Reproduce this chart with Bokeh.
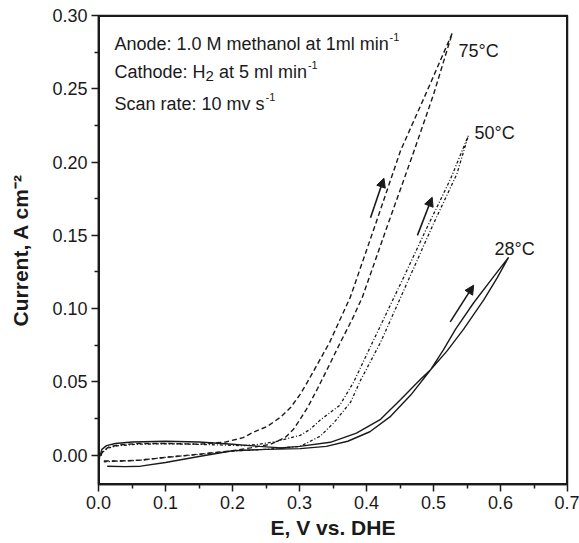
from bokeh.plotting import figure
from bokeh.models import Range1d, FixedTicker, PrintfTickFormatter, Label, Arrow, NormalHead
from bokeh.embed import file_html
from bokeh.resources import INLINE

# ---------------- data ----------------
x_ticks = [0.0, 0.1, 0.2, 0.3, 0.4, 0.5, 0.6, 0.7]
x_tick_labels = ["0.0", "0.1", "0.2", "0.3", "0.4", "0.5", "0.6", "0.7"]
x_minor = [0.05, 0.15, 0.25, 0.35, 0.45, 0.55, 0.65]
y_ticks = [0.0, 0.05, 0.1, 0.15, 0.2, 0.25, 0.3]
y_tick_labels = ["0.00", "0.05", "0.10", "0.15", "0.20", "0.25", "0.30"]
y_minor = [-0.025, 0.025, 0.075, 0.125, 0.175, 0.225, 0.275]

t28_x = [0.013, 0.04, 0.063, 0.10, 0.152, 0.20, 0.25, 0.301, 0.34, 0.372, 0.405, 0.436, 0.466, 0.496,
         0.515, 0.533, 0.560, 0.590, 0.612,
         0.595, 0.575, 0.545, 0.52, 0.496, 0.481, 0.451, 0.421, 0.385, 0.346, 0.30, 0.272,
         0.24, 0.20, 0.15, 0.10, 0.05, 0.025, 0.012, 0.005, 0.002]
t28_y = [-0.0075, -0.0078, -0.0075, -0.005, -0.0007, 0.003, 0.004, 0.0045, 0.006, 0.0095, 0.016, 0.0265, 0.041, 0.0585,
         0.072, 0.086, 0.104, 0.122, 0.135,
         0.121, 0.106, 0.086, 0.071, 0.0585, 0.052, 0.038, 0.0245, 0.015, 0.0088, 0.006, 0.005,
         0.006, 0.0075, 0.009, 0.0095, 0.009, 0.008, 0.0065, 0.004, -0.001]

t50_x = [0.008, 0.03, 0.06, 0.10, 0.15, 0.20, 0.25, 0.301, 0.331, 0.351, 0.376, 0.391, 0.421, 0.463,
         0.50, 0.535, 0.552,
         0.525, 0.49, 0.454, 0.409, 0.381, 0.36, 0.331, 0.316, 0.301, 0.267, 0.24, 0.216, 0.18,
         0.14, 0.10, 0.06, 0.03, 0.015, 0.006, 0.002]
t50_y = [-0.0045, -0.004, -0.0035, -0.0015, 0.0005, 0.0028, 0.004, 0.006, 0.013, 0.022, 0.036, 0.051, 0.077, 0.120,
         0.158, 0.192, 0.218,
         0.188, 0.155, 0.120, 0.077, 0.050, 0.034, 0.024, 0.0177, 0.0135, 0.0095, 0.0075, 0.0065, 0.007,
         0.0075, 0.0078, 0.0075, 0.0065, 0.005, 0.002, -0.002]

t75_x = [0.008, 0.03, 0.06, 0.10, 0.15, 0.20, 0.227, 0.257, 0.279, 0.291, 0.301, 0.312, 0.327, 0.345,
         0.36, 0.38, 0.394, 0.43, 0.469, 0.50, 0.528,
         0.49, 0.451, 0.413, 0.376, 0.345, 0.312, 0.301, 0.287, 0.272, 0.252, 0.231, 0.216, 0.19,
         0.15, 0.10, 0.06, 0.03, 0.015, 0.006, 0.002]
t75_y = [-0.004, -0.004, -0.0035, -0.0015, 0.0007, 0.003, 0.005, 0.0075, 0.0122, 0.0177, 0.0245, 0.0325, 0.0455, 0.062,
         0.076, 0.094, 0.108, 0.155, 0.205, 0.246, 0.288,
         0.248, 0.208, 0.157, 0.108, 0.077, 0.050, 0.0415, 0.0327, 0.026, 0.0197, 0.0156, 0.012, 0.009,
         0.0075, 0.008, 0.008, 0.007, 0.0055, 0.0025, -0.002]

# scan-direction arrows (start x, start y, end x, end y)
arrow_x0 = [0.406, 0.476, 0.525]
arrow_y0 = [0.162, 0.150, 0.091]
arrow_x1 = [0.426, 0.498, 0.560]
arrow_y1 = [0.189, 0.176, 0.116]

temp_labels = ["75°C", "50°C", "28°C"]

# ---------------- layout ----------------
W, H = 579, 543
FL, FR, FT, FB = 98, 567, 15, 484
X0, X1, Y0, Y1 = 0.0, 0.7, -0.02, 0.30
FONT = "Liberation Sans"
INK = "#1a1a1a"


def px_x(px):
    return X0 + (X1 - X0) * (px - FL) / (FR - FL)


def px_y(py):
    return Y1 - (Y1 - Y0) * (py - FT) / (FB - FT)


AR = {' ': 278, 'A': 667, 'C': 722, 'H': 722, 'M': 833, 'S': 667, 'a': 556, 'c': 500, 'd': 556,
      'e': 556, 'h': 556, 'i': 222, 'l': 222, 'm': 833, 'n': 556, 'o': 556, 'r': 333, 's': 500,
      't': 278, 'v': 500, ':': 278, '.': 278, '-': 333, ',': 278}


def tw(s, size, table=AR):
    return sum(table.get(c, 556) for c in s) / 1000.0 * size


p = figure(frame_width=FR - FL, frame_height=FB - FT, x_range=Range1d(X0, X1), y_range=Range1d(Y0, Y1),
           output_backend="svg", toolbar_location=None,
           min_border_left=FL, min_border_right=W - FR, min_border_top=FT, min_border_bottom=H - FB)
p.xgrid.visible = False
p.ygrid.visible = False
p.background_fill_color = "white"
p.border_fill_color = None
p.outline_line_color = INK
p.outline_line_width = 1.5

for ax in (p.xaxis[0], p.yaxis[0]):
    ax.axis_line_color = INK
    ax.axis_line_width = 1.5
    ax.major_tick_line_color = INK
    ax.major_tick_line_width = 1.5
    ax.minor_tick_line_color = INK
    ax.minor_tick_line_width = 1.5
    ax.major_tick_out = 7
    ax.major_tick_in = 0
    ax.minor_tick_out = 4
    ax.minor_tick_in = 0
    ax.major_label_text_font = FONT
    ax.major_label_text_font_size = "18px"
    ax.major_label_text_color = INK
    ax.axis_label_text_font = FONT
    ax.axis_label_text_font_size = "21px"
    ax.axis_label_text_font_style = "bold"
    ax.axis_label_text_color = INK

p.xaxis.ticker = FixedTicker(ticks=x_ticks, minor_ticks=x_minor)
p.xaxis.formatter = PrintfTickFormatter(format="%.1f")
p.xaxis.major_label_overrides = {t: l for t, l in zip(x_ticks, x_tick_labels)}
p.xaxis.major_label_standoff = 4
p.xaxis.axis_label = "E, V vs. DHE"
p.xaxis.axis_label_standoff = 4
p.yaxis.ticker = FixedTicker(ticks=y_ticks, minor_ticks=y_minor)
p.yaxis.formatter = PrintfTickFormatter(format="%.2f")
p.yaxis.major_label_overrides = {t: l for t, l in zip(y_ticks, y_tick_labels)}
p.yaxis.major_label_standoff = 4
p.yaxis.axis_label = "Current, A cm\u207b\u00b2"
p.yaxis.axis_label_standoff = 17

# box round the plotting area (drawn on the range limits)
p.quad(left=[X0], right=[X1], bottom=[Y0], top=[Y1], fill_color=None, line_color=INK, line_width=3)

# curves
p.line(t28_x, t28_y, line_color=INK, line_width=1.4)
p.line(t50_x, t50_y, line_color=INK, line_width=1.3, line_dash="3 2 1 2")
p.line(t75_x, t75_y, line_color=INK, line_width=1.4, line_dash="5 3")

for i in range(3):
    p.add_layout(Arrow(x_start=arrow_x0[i], y_start=arrow_y0[i], x_end=arrow_x1[i], y_end=arrow_y1[i],
                       line_color=INK, line_width=1.6,
                       end=NormalHead(size=9, fill_color=INK, line_color=INK, line_width=1)))


def lab(x, y, text, size, **kw):
    p.add_layout(Label(x=x, y=y, text=text, text_font=FONT, text_font_size=f"{size}px",
                       text_color=INK, text_baseline=kw.pop("baseline", "alphabetic"),
                       text_align=kw.pop("align", "left"), **kw))


# temperature labels
for t, (lx, ly) in zip(temp_labels, [(458, 50), (474, 132), (494, 248)]):
    lab(px_x(lx), px_y(ly), t, 18)

# conditions text
TX = 114
s1 = "Anode: 1.0 M methanol at 1ml min"
lab(px_x(TX), px_y(43), s1, 18)
lab(px_x(TX + tw(s1, 18) + 1), px_y(36), "-1", 11)

s2a = "Cathode: H"
s2b = "at 5 ml min"
lab(px_x(TX), px_y(71), s2a, 18)
xb = TX + tw(s2a, 18)
lab(px_x(xb), px_y(75), "2", 15)
xc = xb + 15 * 0.556 + tw(" ", 18)
lab(px_x(xc), px_y(71), s2b, 18)
lab(px_x(xc + tw(s2b, 18) + 1), px_y(64), "-1", 11)

s3 = "Scan rate: 10 mv s"
lab(px_x(TX), px_y(103), s3, 18)
lab(px_x(TX + tw(s3, 18) + 1), px_y(96), "-1", 11)

open("out.html", "w").write(file_html(p, INLINE))
